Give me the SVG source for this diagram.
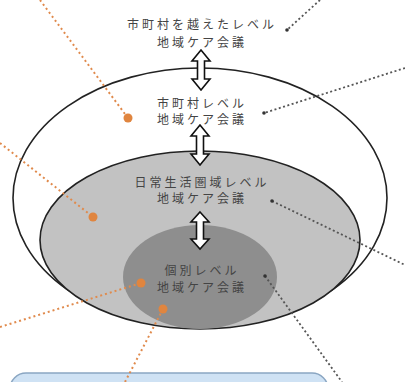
<svg xmlns="http://www.w3.org/2000/svg" width="405" height="382" viewBox="0 0 405 382">
<style>
.lbl{font-family:"Noto Sans CJK JP","Noto Sans",sans-serif;font-size:12px;fill:#444;text-anchor:middle;letter-spacing:3px}
.arr{fill:#fff;stroke:#111;stroke-width:1.6;stroke-linejoin:miter}
.or{stroke:#e08a4c;stroke-width:2;stroke-dasharray:2 3;fill:none}
.bk{stroke:#555;stroke-width:1.8;stroke-dasharray:2 2.5;fill:none}
.od{fill:#e0853f}
.bd{fill:#333}
</style>
<rect width="405" height="382" fill="#fff"/>
<g id="box">
<rect x="10" y="373" width="318" height="40" rx="16" fill="#cfe2f4" stroke="#8aa6c2" stroke-width="1.5"/>
</g>
<g id="outer">
<ellipse cx="200" cy="198" rx="187" ry="130" fill="#fff" stroke="#222" stroke-width="1.6"/>
</g>
<g id="area">
<ellipse cx="200" cy="240" rx="160" ry="89" fill="#c2c2c2" stroke="#222" stroke-width="1.6"/>
</g>
<g id="individual">
<ellipse cx="200" cy="277" rx="77" ry="52" fill="#8e8e8e"/>
</g>
<g id="arrows">
<path class="arr" d="M201,50 L210,61 L204.5,61 L204.5,79 L210,79 L201,90 L192,79 L197.5,79 L197.5,61 L192,61 Z"/>
<path class="arr" d="M200,125 L209,136 L203.5,136 L203.5,154 L209,154 L200,165 L191,154 L196.5,154 L196.5,136 L191,136 Z"/>
<path class="arr" d="M200,212 L209,222 L203.5,222 L203.5,239 L209,239 L200,249 L191,239 L196.5,239 L196.5,222 L191,222 Z"/>
</g>
<g id="n-beyond">
<text class="lbl" x="202" y="29">市町村を越えたレベル</text>
<text class="lbl" x="202" y="47">地域ケア会議</text>
</g>
<g id="n-city">
<text class="lbl" x="202" y="108">市町村レベル</text>
<text class="lbl" x="202" y="124">地域ケア会議</text>
</g>
<g id="n-daily">
<text class="lbl" x="202" y="187">日常生活圏域レベル</text>
<text class="lbl" x="202" y="203">地域ケア会議</text>
</g>
<g id="n-indiv">
<text class="lbl" x="202" y="275">個別レベル</text>
<text class="lbl" x="202" y="292">地域ケア会議</text>
</g>
<g id="connectors">
<line class="or" x1="40" y1="0" x2="128" y2="118"/>
<circle class="od" cx="128" cy="118" r="4.5"/>
<line class="or" x1="0" y1="143" x2="93" y2="217"/>
<circle class="od" cx="93" cy="217" r="4.5"/>
<line class="or" x1="0" y1="327" x2="141" y2="283"/>
<circle class="od" cx="141" cy="283" r="4.5"/>
<line class="or" x1="125" y1="382" x2="163" y2="309"/>
<circle class="od" cx="163" cy="309" r="4.5"/>
<line class="bk" x1="320" y1="0" x2="287" y2="30"/>
<circle class="bd" cx="287" cy="30" r="1.8"/>
<line class="bk" x1="405" y1="68" x2="264" y2="113"/>
<circle class="bd" cx="264" cy="113" r="1.8"/>
<line class="bk" x1="272" y1="201" x2="405" y2="265"/>
<circle class="bd" cx="272" cy="201" r="1.8"/>
<line class="bk" x1="265" y1="276" x2="342" y2="382"/>
<circle class="bd" cx="265" cy="276" r="1.8"/>
</g>
</svg>
